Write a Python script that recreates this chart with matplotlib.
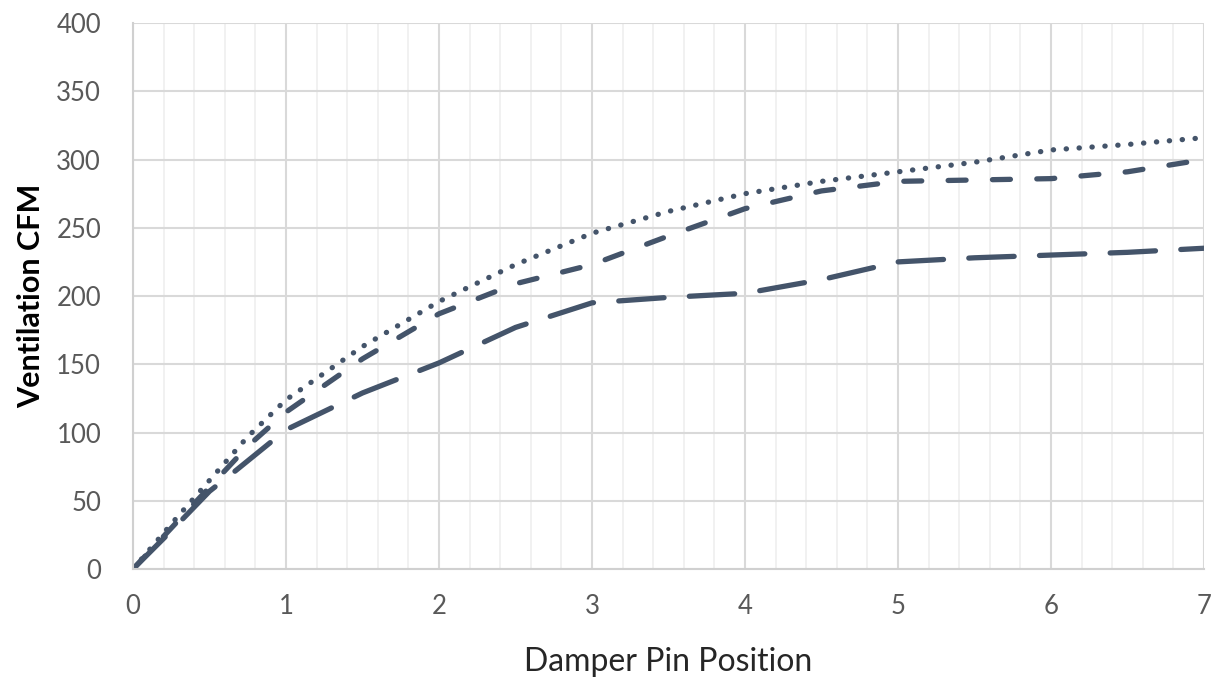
import matplotlib.pyplot as plt
from matplotlib.ticker import MultipleLocator

# damper pin position vs ventilation
pin_pos = [0, 0.25, 0.5, 0.75, 1, 1.5, 2, 2.5, 3, 3.5, 4, 4.5, 5, 5.5, 6, 6.5, 7]
cfm_dotted = [0, 33, 65, 97, 124, 163, 196, 223, 246, 262, 275, 284, 291, 298, 307, 311, 316]
cfm_dashed = [0, 30, 60, 90, 115, 154, 187, 209, 223, 244, 264, 277, 284, 285, 286, 291, 300]

pin_pos_long = [0, 0.25, 0.5, 0.67, 1, 1.5, 2, 2.5, 3, 3.5, 4, 4.5, 5, 5.5, 6, 6.5, 7]
cfm_long = [0, 28, 57, 72, 102, 129, 151, 177, 195, 199, 202, 212, 225, 228, 230, 232, 235]

line_color = "#44546A"
font = ["Lato", "DejaVu Sans"]

fig = plt.figure(figsize=(12.23, 6.83), dpi=100)
ax = fig.add_axes([0.1088, 0.1669, 0.8757, 0.7994])

lw = 3.8
ax.plot(pin_pos, cfm_dotted, color=line_color, lw=lw, dash_capstyle="round",
        dashes=(0.05, 2.4))
ax.plot(pin_pos, cfm_dashed, color=line_color, lw=lw, dash_capstyle="round",
        dashes=(3.4, 5.0))
ax.plot(pin_pos_long, cfm_long, color=line_color, lw=lw, dash_capstyle="round",
        dashes=(8.6, 4.8))

ax.set_xlim(0, 7)
ax.set_ylim(0, 400)
ax.xaxis.set_major_locator(MultipleLocator(1))
ax.xaxis.set_minor_locator(MultipleLocator(0.2))
ax.yaxis.set_major_locator(MultipleLocator(50))

ax.grid(True, which="major", color="#D9D9D9", lw=1.5)
ax.grid(True, which="minor", axis="x", color="#EFEFEF", lw=1.2)
ax.set_axisbelow(True)

for side in ["top", "right"]:
    ax.spines[side].set_visible(False)
for side in ["left", "bottom"]:
    ax.spines[side].set_color("#D0D0D0")
    ax.spines[side].set_linewidth(1.5)

ax.tick_params(which="both", length=0)
ax.tick_params(axis="x", pad=18, labelsize=18.5, labelcolor="#595959")
ax.tick_params(axis="y", pad=23, labelsize=18.5, labelcolor="#595959")
for lab in ax.get_xticklabels() + ax.get_yticklabels():
    lab.set_family(font)

ax.set_xlabel("Damper Pin Position", fontsize=23, family=font, color="#262626", labelpad=20)
ax.set_ylabel("Ventilation CFM", fontsize=22, family=font, fontweight="bold",
              color="#000000", labelpad=8)

fig.savefig("out.png", dpi=100)
